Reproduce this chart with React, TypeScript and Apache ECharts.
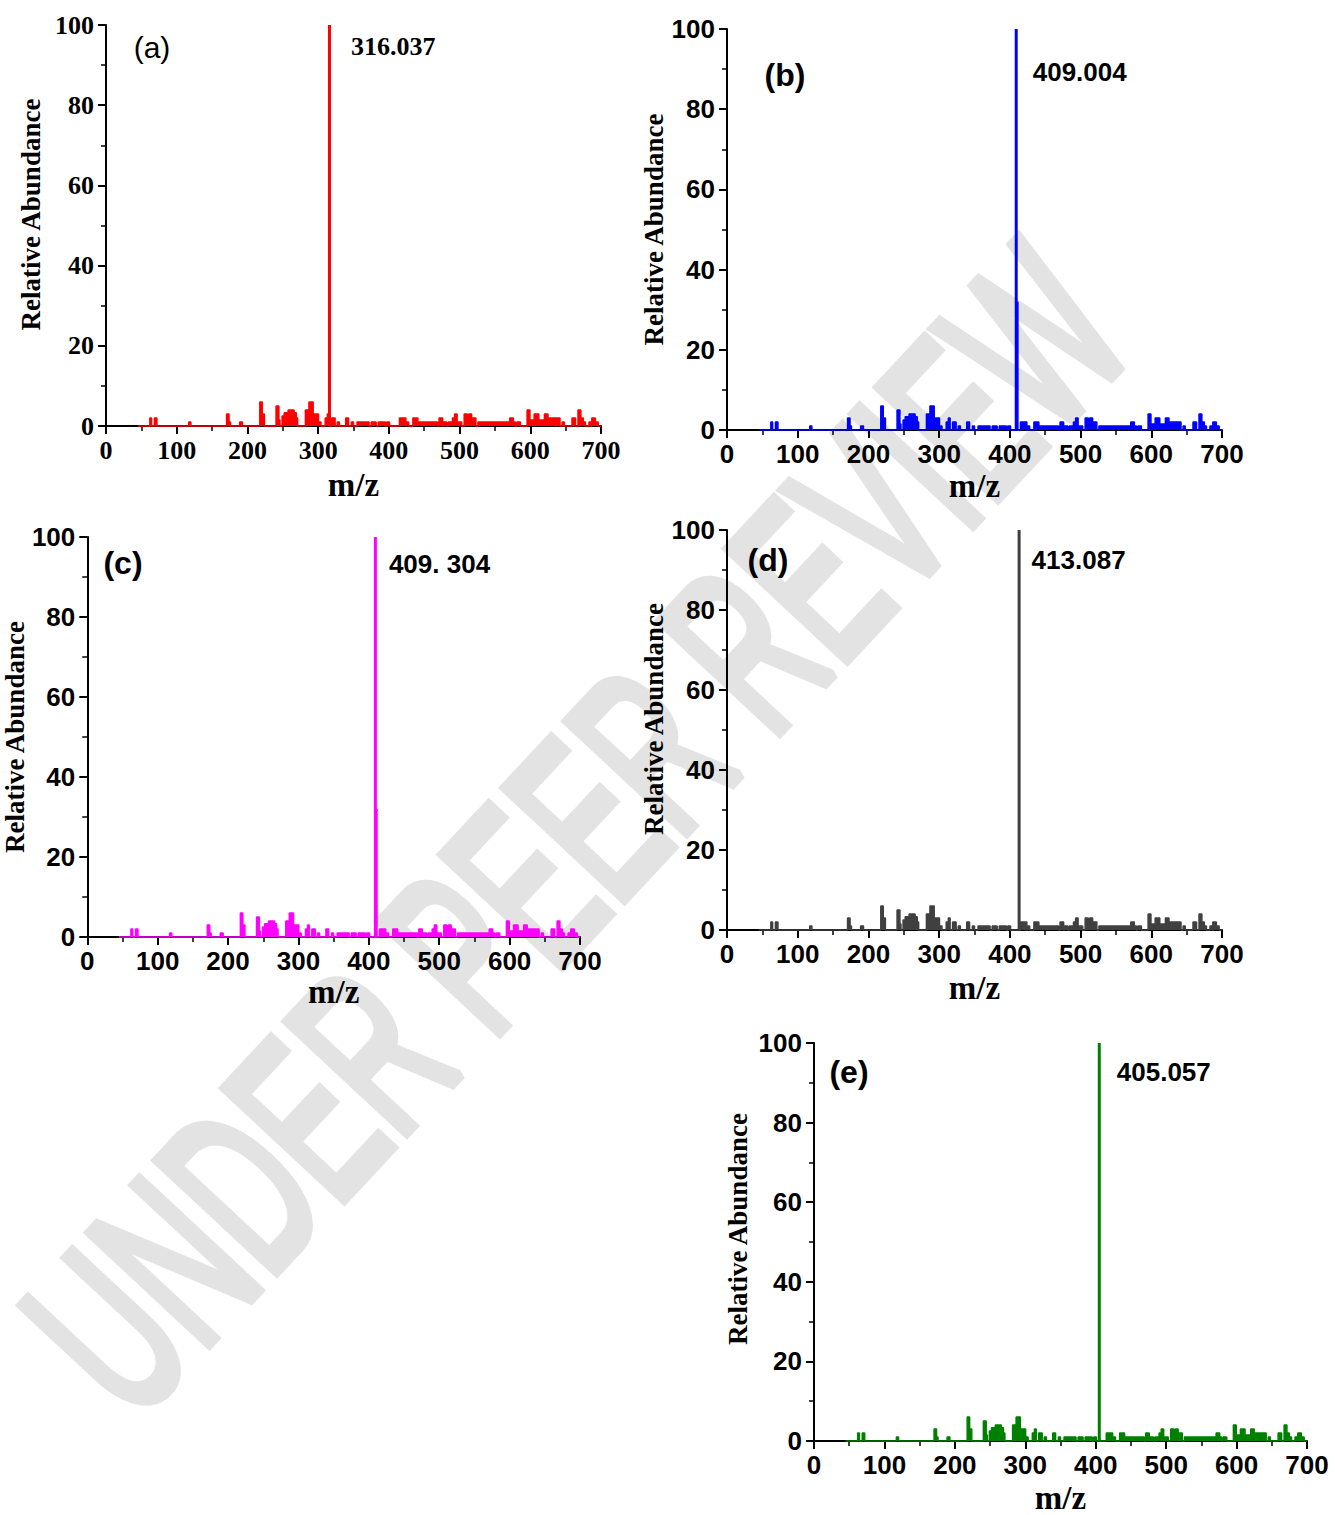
import React, { useEffect, useRef } from "react";
import * as echarts from "echarts";

// ---------------- data ----------------
const PANEL_IDS = ["(a)", "(b)", "(c)", "(d)", "(e)"];
const PEAK_MZ = [316.037, 409.004, 409.304, 413.087, 405.057];
const PEAK_HEIGHT = [100, 100, 100, 100, 100];
const PEAK_LABELS = ["316.037", "409.004", "409. 304", "413.087", "405.057"];
const ISOTOPE_MZ = [null, 411, 411.3, null, null];
const ISOTOPE_HEIGHT = [0, 32, 32, 0, 0];
const COLORS = ["#ff0000", "#0000ff", "#ff00ff", "#404040", "#008000"];

const X_MIN = 0;
const X_MAX = 700;
const X_STEP = 100;
const Y_MIN = 0;
const Y_MAX = 100;
const Y_STEP = 20;

const SPECTRUM_START = 45;
const SPECTRUM_END = 700;

const WATERMARK_WORDS = ["UNDER", "PEER", "REVIEW"];

// background ions: [m/z from, m/z to, relative abundance]
const NOISE_SEGMENTS: [number, number, number][] = [
  [62, 64.5, 2], [68.5, 72, 2], [117, 120, 1], [170.5, 174, 3], [174, 176, 1],
  [189, 193, 1], [217.5, 221, 6], [221, 224, 3], [240.5, 244.5, 5], [244.5, 246, 1.5],
  [249, 252, 2.5], [252, 256, 3.3], [256, 257.5, 2], [257.5, 266, 4], [266, 269, 3.3],
  [269, 271, 2], [282, 287, 4], [287, 293, 6], [293, 295, 3], [295, 300.5, 3],
  [301, 304, 1], [310, 313, 2], [313, 315.5, 3], [319, 324, 2], [327, 330, 1],
  [339, 343, 2], [347, 350, 1], [355, 372, 1], [375, 382, 1], [385, 395, 1],
  [397, 401, 1], [415, 424, 2], [425, 428, 1], [434, 441, 2], [441, 469, 1],
  [471, 476, 2], [477, 482, 1], [484, 490, 1], [490, 493, 2], [493, 496.5, 3],
  [496.5, 503, 1], [506.5, 511, 3], [511, 513, 1], [513, 517, 3], [517, 523, 2],
  [526, 571, 1], [571, 576, 2], [576, 579, 1], [581, 586, 1], [595.5, 599.5, 4],
  [599.5, 605.5, 1.5], [605.5, 612, 3], [612, 620, 1.5], [620, 625, 3], [625, 630, 2],
  [630, 635, 2], [636, 642, 2], [645, 648, 1], [659, 664, 2], [667.5, 671.5, 4],
  [671.5, 675, 2], [675, 678, 1], [683, 686, 1], [687, 692, 2], [692, 696, 1],
];

// ---------------- layout ----------------
const SERIF = '"Liberation Serif", "Times New Roman", serif';
const SANS = '"Liberation Sans", Arial, sans-serif';

const LAYOUT = [
  { left: 106, top: 25, width: 495, height: 401, tickFont: SERIF, yGap: 62, yShift: 22, xGap: 42, letter: [152, 47], letterBold: false, labelFont: SERIF, labelOff: [22, 22] },
  { left: 727, top: 29, width: 495, height: 401, tickFont: SANS, yGap: 56, yShift: 0, xGap: 39, letter: [785, 75], letterBold: true, labelFont: SANS, labelOff: [17, 43] },
  { left: 86, top: 537, width: 494, height: 400, tickFont: SANS, yGap: 52, yShift: 0, xGap: 38, letter: [123, 563], letterBold: true, labelFont: SANS, labelOff: [14, 27] },
  { left: 727, top: 530, width: 495, height: 400, tickFont: SANS, yGap: 58, yShift: 22, xGap: 41, letter: [768, 560], letterBold: true, labelFont: SANS, labelOff: [13, 30] },
  { left: 814, top: 1043, width: 493, height: 400, tickFont: SANS, yGap: 63, yShift: 26, xGap: 40, letter: [849, 1072], letterBold: true, labelFont: SANS, labelOff: [18, 29] },
];

const WM = { cx: 576, cy: 830, angleDeg: 47, fontSize: 236, lineHeight: 170, scaleX: 0.58, color: "#e3e3e3", stroke: 11 };

function buildProfile(): [number, number][] {
  const pts: [number, number][] = [[SPECTRUM_START, 0]];
  NOISE_SEGMENTS.forEach(([s, e, h]) => {
    pts.push([s, h]);
    pts.push([e, 0]);
  });
  pts.push([SPECTRUM_END, 0]);
  return pts;
}

function watermarkGroup() {
  const font = `normal ${WM.fontSize}px ${SANS}`;
  let measure = (t: string) => t.length * WM.fontSize * 0.62;
  try {
    const ctx = document.createElement("canvas").getContext("2d");
    if (ctx) {
      ctx.font = font;
      measure = (t: string) => ctx.measureText(t).width;
    }
  } catch (e) {
    /* fallback */
  }
  const space = measure(" ");
  const widths = WATERMARK_WORDS.map(measure);
  const total = widths.reduce((a, b) => a + b, 0) + space * (WATERMARK_WORDS.length - 1);
  let cursor = -total / 2;
  const children: any[] = [];
  WATERMARK_WORDS.forEach((w, k) => {
    const center = cursor + widths[k] / 2;
    children.push({
      type: "text",
      x: center * WM.scaleX,
      y: 0,
      scaleX: WM.scaleX,
      silent: true,
      style: {
        text: w,
        font,
        lineHeight: WM.lineHeight,
        fill: WM.color,
        stroke: WM.color,
        lineWidth: WM.stroke,
        lineJoin: "round",
        align: "center",
        verticalAlign: "middle",
      },
    });
    cursor += widths[k] + space;
  });
  return {
    type: "group",
    x: WM.cx,
    y: WM.cy,
    rotation: (WM.angleDeg * Math.PI) / 180,
    z: -10,
    silent: true,
    children,
  };
}

function buildOption() {
  const grid: any[] = [];
  const xAxis: any[] = [];
  const yAxis: any[] = [];
  const series: any[] = [];
  const graphic: any[] = [watermarkGroup()];

  LAYOUT.forEach((L, i) => {
    const color = COLORS[i];
    grid.push({ left: L.left, top: L.top, width: L.width, height: L.height, containLabel: false });
    const tickLabel = {
      color: "#000",
      fontFamily: L.tickFont,
      fontWeight: "bold",
      fontSize: 26,
      showMinLabel: true,
      showMaxLabel: true,
    };
    xAxis.push({
      gridIndex: i,
      type: "value",
      min: X_MIN,
      max: X_MAX,
      interval: X_STEP,
      axisLine: { show: true, onZero: false, lineStyle: { color: "#000", width: 2 } },
      axisTick: { show: true, length: 8, lineStyle: { color: "#000", width: 2 } },
      minorTick: { show: true, splitNumber: 2, length: 5, lineStyle: { color: "#000", width: 1.5 } },
      splitLine: { show: false },
      minorSplitLine: { show: false },
      axisLabel: { ...tickLabel, margin: 11 },
      name: "m/z",
      nameLocation: "middle",
      nameGap: L.xGap,
      nameTextStyle: { fontFamily: SERIF, fontWeight: "bold", fontSize: 33, color: "#000" },
    });
    yAxis.push({
      gridIndex: i,
      type: "value",
      min: Y_MIN,
      max: Y_MAX,
      interval: Y_STEP,
      axisLine: { show: true, onZero: false, lineStyle: { color: "#000", width: 2 } },
      axisTick: { show: true, length: 8, lineStyle: { color: "#000", width: 2 } },
      minorTick: { show: true, splitNumber: 2, length: 5, lineStyle: { color: "#000", width: 1.5 } },
      splitLine: { show: false },
      minorSplitLine: { show: false },
      axisLabel: { ...tickLabel, margin: 12 },
      name: "Relative Abundance",
      nameLocation: "middle",
      nameRotate: 90,
      nameGap: L.yGap,
      nameTextStyle: {
        fontFamily: SERIF,
        fontWeight: "bold",
        fontSize: 27,
        color: "#000",
        padding: [0, 0, 0, L.yShift],
      },
    });

    series.push({
      type: "line",
      xAxisIndex: i,
      yAxisIndex: i,
      data: buildProfile(),
      step: "end",
      symbol: "none",
      showSymbol: false,
      clip: false,
      lineStyle: { color, width: 1.5 },
      areaStyle: { color, opacity: 1 },
      itemStyle: { color },
      z: 3,
    });
    series.push({
      type: "line",
      xAxisIndex: i,
      yAxisIndex: i,
      data: [
        [PEAK_MZ[i], 0],
        [PEAK_MZ[i], PEAK_HEIGHT[i]],
      ],
      symbol: "none",
      clip: false,
      lineStyle: { color, width: 3 },
      itemStyle: { color },
      z: 4,
    });
    if (ISOTOPE_MZ[i] !== null) {
      series.push({
        type: "line",
        xAxisIndex: i,
        yAxisIndex: i,
        data: [
          [ISOTOPE_MZ[i], 0],
          [ISOTOPE_MZ[i], ISOTOPE_HEIGHT[i]],
        ],
        symbol: "none",
        clip: false,
        lineStyle: { color, width: 2 },
        itemStyle: { color },
        z: 4,
      });
    }
    series.push({
      type: "scatter",
      xAxisIndex: i,
      yAxisIndex: i,
      data: [[PEAK_MZ[i], PEAK_HEIGHT[i]]],
      symbolSize: 1,
      itemStyle: { color: "rgba(0,0,0,0)", opacity: 1 },
      silent: true,
      z: 5,
      label: {
        show: true,
        formatter: () => PEAK_LABELS[i],
        position: L.labelOff,
        align: "left",
        verticalAlign: "middle",
        color: "#000",
        opacity: 1,
        fontFamily: L.labelFont,
        fontWeight: "bold",
        fontSize: 26,
      },
    });

    graphic.push({
      type: "text",
      x: L.letter[0],
      y: L.letter[1],
      z: 10,
      style: {
        text: PANEL_IDS[i],
        font: `${L.letterBold ? "bold" : "normal"} ${L.letterBold ? 32 : 30}px ${SANS}`,
        fill: "#000",
        align: "center",
        verticalAlign: "middle",
      },
    });
  });

  return {
    animation: false,
    backgroundColor: "#ffffff",
    grid,
    xAxis,
    yAxis,
    series,
    graphic,
  };
}

export default function App() {
  const ref = useRef<HTMLDivElement>(null);
  useEffect(() => {
    if (!ref.current) return;
    const chart = echarts.init(ref.current, null, { renderer: "svg" });
    chart.setOption(buildOption() as any);
    return () => chart.dispose();
  }, []);
  return (
    <div
      ref={ref}
      style={{ position: "absolute", left: 0, top: 0, width: 1335, height: 1515, background: "#fff" }}
    />
  );
}
